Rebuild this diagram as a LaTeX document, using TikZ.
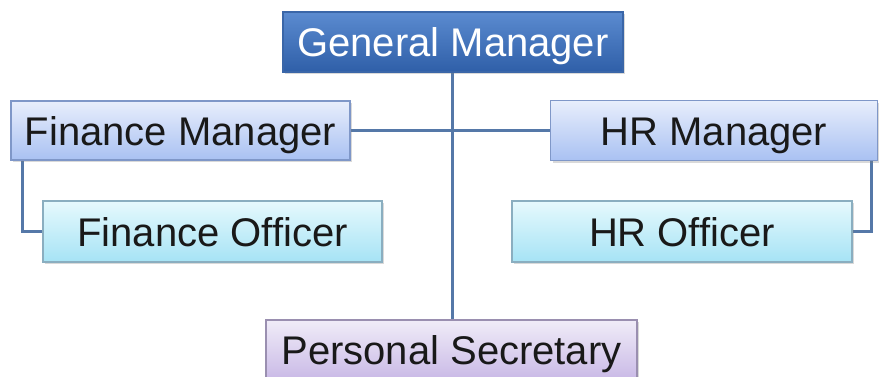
\documentclass[tikz,border=0pt]{standalone}
\usepackage{fontspec}
\setmainfont{Liberation Sans}
\usetikzlibrary{shadows,backgrounds}
\definecolor{linec}{HTML}{5578A8}
\definecolor{gmtop}{HTML}{5B8BD0}
\definecolor{gmbot}{HTML}{2F5FA8}
\definecolor{gmbd}{HTML}{3A66A8}
\definecolor{mgtop}{HTML}{E8EEFC}
\definecolor{mgbot}{HTML}{A9C1F2}
\definecolor{mgbd}{HTML}{7F97C8}
\definecolor{oftop}{HTML}{E6F9FD}
\definecolor{ofbot}{HTML}{A6E3F5}
\definecolor{ofbd}{HTML}{8AAEC0}
\definecolor{pstop}{HTML}{F0ECF8}
\definecolor{psbot}{HTML}{C9B9E6}
\definecolor{psbd}{HTML}{9A8FB0}
\tikzset{
  box/.style={rectangle, inner sep=0pt, align=center,
    font=\fontsize{40}{44}\selectfont, text height=29pt, text depth=0pt,
    line width=1.2pt,
    drop shadow={opacity=0.3, shadow xshift=2pt, shadow yshift=-2pt}},
  gmbox/.style={box, draw=gmbd, top color=gmtop, bottom color=gmbot, text=white},
  mgbox/.style={box, draw=mgbd, top color=mgtop, bottom color=mgbot, text=black!90},
  ofbox/.style={box, draw=ofbd, top color=oftop, bottom color=ofbot, text=black!90},
  psbox/.style={box, draw=psbd, top color=pstop, bottom color=psbot, text=black!90},
  conn/.style={draw=linec, line width=3pt}
}
\begin{document}
\begin{tikzpicture}[x=1pt,y=-1pt]
\useasboundingbox (0,0) rectangle (879,376);
\clip (0,0) rectangle (879,376);
\node[gmbox, minimum width=340pt, minimum height=60pt] (gm) at (453,42) {General Manager};
\node[mgbox, minimum width=339pt, minimum height=59pt] (fm) at (180.5,130.5) {Finance Manager};
\node[mgbox, minimum width=327pt, minimum height=60pt] (hm) at (714,130.5) {HR Manager};
\node[ofbox, minimum width=339pt, minimum height=61pt] (fo) at (212.5,231.5) {Finance Officer};
\node[ofbox, minimum width=340pt, minimum height=61pt] (ho) at (682,231.5) {HR Officer};
\node[psbox, minimum width=371pt, minimum height=60pt] (ps) at (451.5,350) {Personal Secretary};
\begin{scope}[on background layer]
\draw[conn] ([xshift=-1pt]gm.south) -- ([xshift=-1pt]gm.south |- ps.north);
\draw[conn] (fm.east) -- (fm.east -| hm.west);
\draw[conn] ([xshift=12pt]fm.south west) |- (fo.west);
\draw[conn] ([xshift=-7pt]hm.south east) |- (ho.east);
\end{scope}
\end{tikzpicture}
\end{document}
